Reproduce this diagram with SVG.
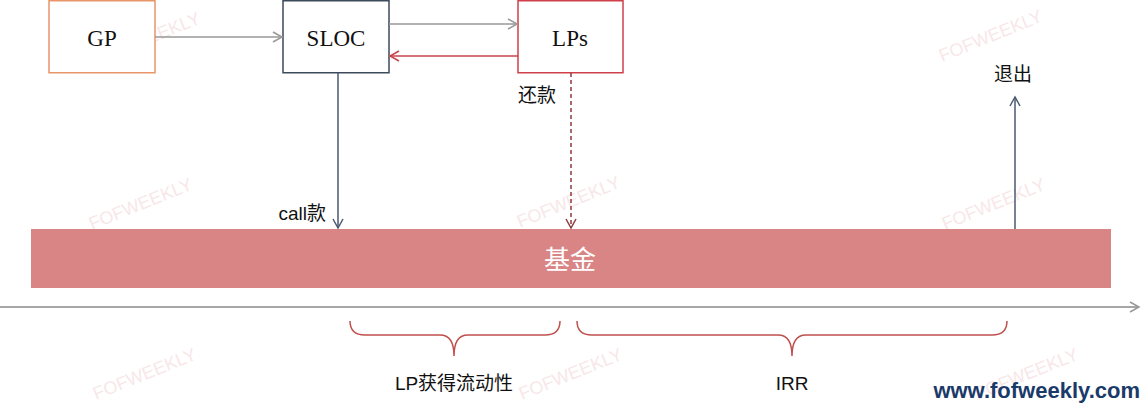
<svg xmlns="http://www.w3.org/2000/svg" width="1142" height="403" viewBox="0 0 1142 403">
<style>
.box{fill:#fff;stroke-width:1.5}
.serif{font-family:"Liberation Serif",serif;font-size:23px;fill:#111;text-anchor:middle}
.cn{font-family:"Liberation Sans","Noto Sans CJK SC",sans-serif;font-size:19px;fill:#111}
.wm{font-family:"Liberation Sans",sans-serif;font-size:18px;fill:#ecbcbf;opacity:0.35}
.brace{fill:none;stroke:#c0504d;stroke-width:1.5}
</style>
<defs>
<marker id="ag" markerWidth="12" markerHeight="12" refX="10" refY="6" orient="auto" markerUnits="userSpaceOnUse"><path d="M1,1 L10,6 L1,11" fill="none" stroke="#999" stroke-width="1.5"/></marker>
<marker id="ar" markerWidth="12" markerHeight="12" refX="10" refY="6" orient="auto" markerUnits="userSpaceOnUse"><path d="M1,1 L10,6 L1,11" fill="none" stroke="#c8444c" stroke-width="1.5"/></marker>
<marker id="as" markerWidth="12" markerHeight="12" refX="10" refY="6" orient="auto" markerUnits="userSpaceOnUse"><path d="M1,1 L10,6 L1,11" fill="none" stroke="#4a5a70" stroke-width="1.5"/></marker>
<marker id="ad" markerWidth="12" markerHeight="12" refX="10" refY="6" orient="auto" markerUnits="userSpaceOnUse"><path d="M1,1 L10,6 L1,11" fill="none" stroke="#8e3a3e" stroke-width="1.5"/></marker>
</defs>
<rect width="1142" height="403" fill="#fff"/>
<g id="watermarks">
<text class="wm" transform="translate(92,230) rotate(-22)">FOFWEEKLY</text>
<text class="wm" transform="translate(520,228) rotate(-22)">FOFWEEKLY</text>
<text class="wm" transform="translate(945,230) rotate(-22)">FOFWEEKLY</text>
<text class="wm" transform="translate(942,62) rotate(-22)">FOFWEEKLY</text>
<text class="wm" transform="translate(525,64) rotate(-22)">FOFWEEKLY</text>
<text class="wm" transform="translate(100,64) rotate(-22)">FOFWEEKLY</text>
<text class="wm" transform="translate(96,400) rotate(-22)">FOFWEEKLY</text>
<text class="wm" transform="translate(522,400) rotate(-22)">FOFWEEKLY</text>
<text class="wm" transform="translate(978,400) rotate(-22)">FOFWEEKLY</text>
</g>
<g id="fund">
<rect x="31" y="229" width="1080" height="59" fill="#d98586"/>
<text x="570" y="269" font-family="Liberation Sans,'Noto Sans CJK SC',sans-serif" font-size="26" fill="#fff" text-anchor="middle">基金</text>
</g>
<g id="GP"><rect class="box" x="49" y="0.75" width="106" height="72" stroke="#e8956a"/><text class="serif" x="102" y="46">GP</text></g>
<g id="SLOC"><rect class="box" x="283" y="0.75" width="106" height="72" stroke="#3d4a5a"/><text class="serif" x="336" y="46">SLOC</text></g>
<g id="LPs"><rect class="box" x="518" y="0.75" width="105" height="72" stroke="#d0404a"/><text class="serif" x="570" y="46">LPs</text></g>
<g id="connectors">
<line x1="155" y1="37" x2="282" y2="37" stroke="#999" stroke-width="1.5" marker-end="url(#ag)"/>
<line x1="389" y1="24" x2="517" y2="24" stroke="#999" stroke-width="1.5" marker-end="url(#ag)"/>
<line x1="518" y1="56" x2="390" y2="56" stroke="#c8444c" stroke-width="1.5" marker-end="url(#ar)"/>
<line x1="338" y1="73" x2="338" y2="228" stroke="#4a5a70" stroke-width="1.5" marker-end="url(#as)"/>
<line x1="571" y1="73" x2="571" y2="228" stroke="#8e3a3e" stroke-width="1.5" stroke-dasharray="4,3" marker-end="url(#ad)"/>
<line x1="1015" y1="229" x2="1015" y2="97" stroke="#4a5a70" stroke-width="1.5" marker-end="url(#as)"/>
<line x1="0" y1="307" x2="1139" y2="307" stroke="#888" stroke-width="1.5" marker-end="url(#ag)"/>
</g>
<g id="labels">
<text class="cn" x="518" y="102">还款</text>
<text class="cn" x="326" y="220" text-anchor="end">call款</text>
<text class="cn" x="1013" y="81" text-anchor="middle">退出</text>
</g>
<g id="braces">
<path class="brace" d="M350,321 Q350,335 365,335 L440,335 Q454,335 454,356 Q454,335 468,335 L545,335 Q560,335 560,321"/>
<path class="brace" d="M577,321 Q577,335 592,335 L778,335 Q792,335 792,356 Q792,335 806,335 L992,335 Q1007,335 1007,321"/>
<text class="cn" x="454" y="390" text-anchor="middle">LP获得流动性</text>
<text class="cn" x="792" y="390" text-anchor="middle">IRR</text>
</g>
<text x="1140" y="398" font-family="Liberation Sans,sans-serif" font-weight="bold" font-size="22" fill="#1a3a6a" text-anchor="end">www.fofweekly.com</text>
</svg>
